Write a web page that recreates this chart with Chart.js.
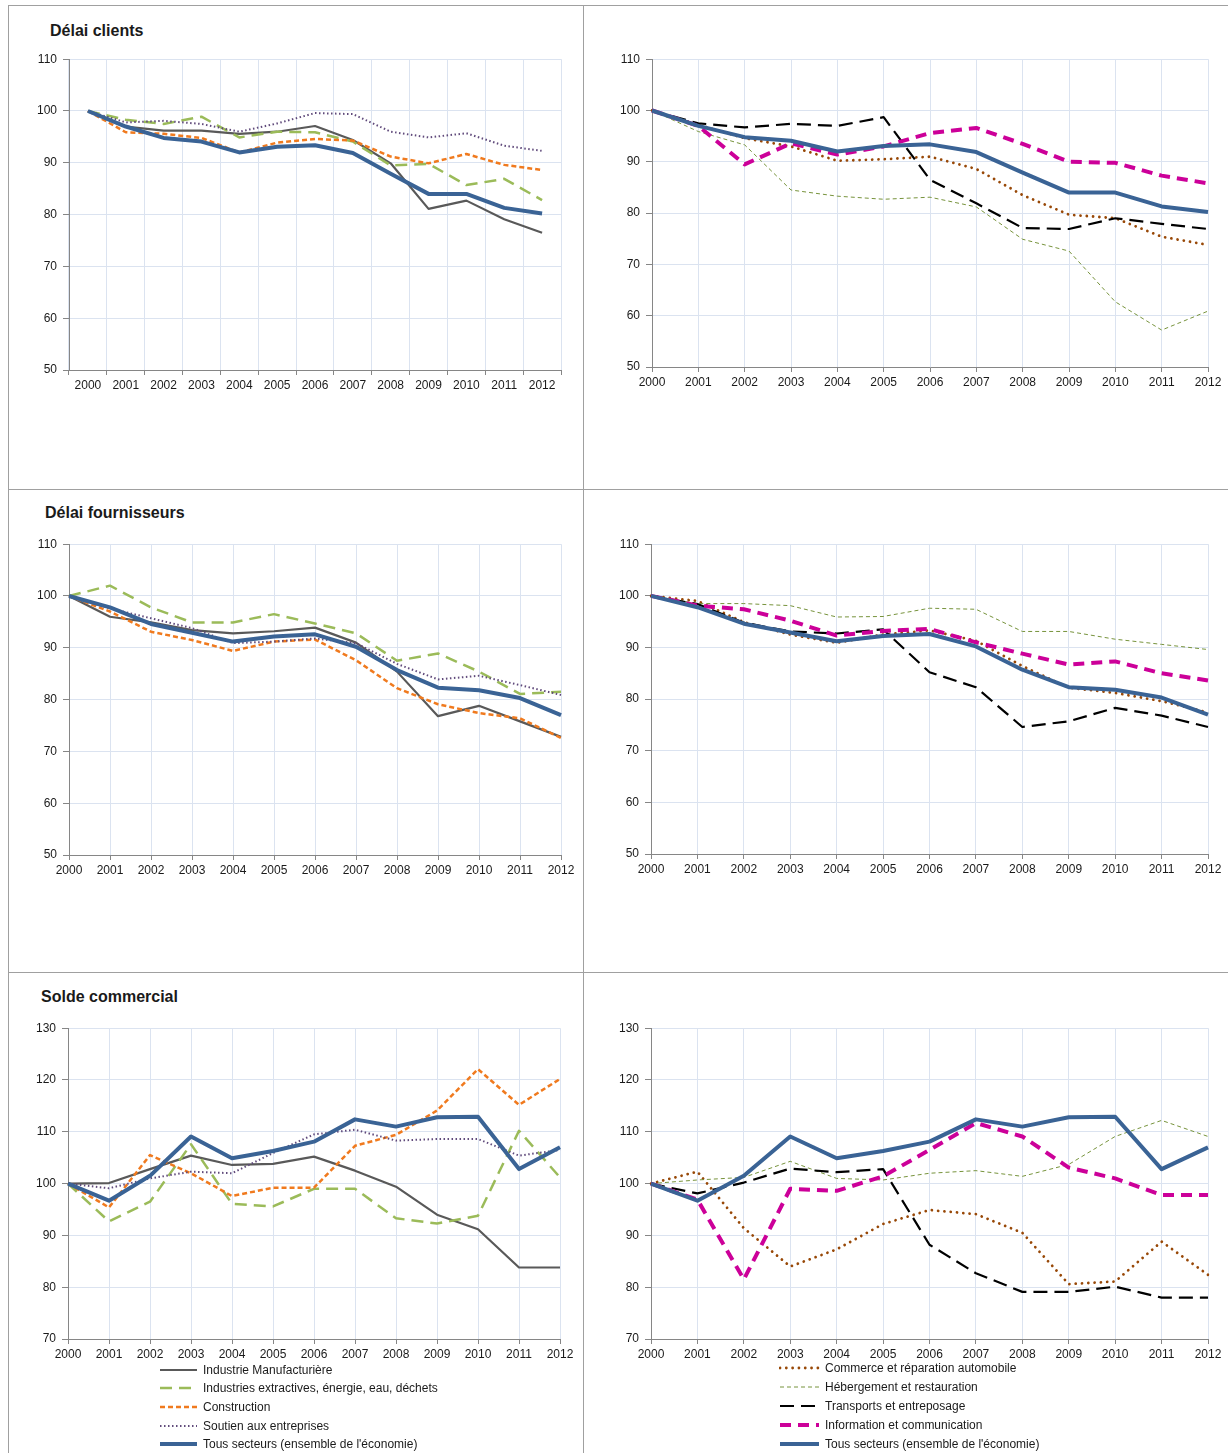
<!DOCTYPE html>
<html lang="fr">
<head>
<meta charset="utf-8">
<title>Délais et solde commercial</title>
<script src="https://cdn.jsdelivr.net/npm/chart.js@4.4.1/dist/chart.umd.min.js"></script>
<style>
  html, body { margin: 0; padding: 0; background: #fff; }
  #page { position: relative; width: 1228px; height: 1453px; overflow: hidden;
          font-family: "Liberation Sans", Arial, sans-serif; color: #1a1a1a; }
  .hline, .vline { position: absolute; background: #a0a0a0; }
  .hline { height: 1px; }
  .vline { width: 1px; }
  canvas { position: absolute; }
  .title { position: absolute; font-weight: bold; font-size: 16px; line-height: 20px; white-space: nowrap; }
  .leg { position: absolute; height: 16px; line-height: 16px; font-size: 12px; white-space: nowrap; }
  .leg svg { position: absolute; top: 4px; }
  .leg span { position: absolute; }
</style>
</head>
<body>
<div id="page">
  <div class="hline" style="left:8px; top:5px; width:1220px;"></div>
  <div class="hline" style="left:8px; top:489px; width:1220px;"></div>
  <div class="hline" style="left:8px; top:972px; width:1220px;"></div>
  <div class="vline" style="left:8px; top:5px; height:1448px;"></div>
  <div class="vline" style="left:583px; top:5px; height:1448px;"></div>

  <div class="title" style="left:50px; top:21px;">Délai clients</div>
  <div class="title" style="left:45px; top:503px;">Délai fournisseurs</div>
  <div class="title" style="left:41px; top:987px;">Solde commercial</div>

  <canvas id="c1" width="561" height="354" style="left:20px; top:46px;"></canvas>
  <canvas id="c2" width="625" height="351" style="left:603px; top:46px;"></canvas>
  <canvas id="c3" width="561" height="354" style="left:20px; top:531px;"></canvas>
  <canvas id="c4" width="626" height="353" style="left:602px; top:531px;"></canvas>
  <canvas id="c5" width="561" height="354" style="left:19px; top:1015px;"></canvas>
  <canvas id="c6" width="626" height="354" style="left:602px; top:1015px;"></canvas>

  <div id="legLeft"></div>
  <div id="legRight"></div>
</div>

<script>
const years = ['2000', '2001', '2002', '2003', '2004', '2005', '2006', '2007', '2008', '2009', '2010', '2011', '2012'];

// Délai clients
const dcTous = [100, 97.0, 94.8, 94.1, 92.0, 93.1, 93.4, 91.9, 87.9, 84.0, 84.0, 81.3, 80.2];
const dcIndustrie = [100, 97.0, 96.2, 96.2, 95.6, 96.0, 97.1, 94.4, 89.9, 81.1, 82.7, 79.1, 76.5];
const dcExtractives = [100, 98.3, 97.5, 98.9, 94.9, 96.0, 95.9, 94.1, 89.5, 89.8, 85.7, 86.9, 82.8];
const dcConstruction = [100, 95.9, 95.6, 94.8, 92.0, 93.9, 94.6, 94.3, 91.2, 89.9, 91.7, 89.6, 88.6];
const dcSoutien = [100, 97.8, 98.1, 97.5, 96.0, 97.6, 99.6, 99.4, 96.0, 94.9, 95.7, 93.3, 92.3];
const dcCommerce = [100, 97.2, 94.6, 93.0, 90.2, 90.5, 91.0, 88.6, 83.5, 79.7, 79.0, 75.4, 73.8];
const dcHebergement = [100, 95.9, 93.3, 84.5, 83.3, 82.7, 83.1, 81.2, 74.9, 72.6, 62.7, 57.2, 60.9];
const dcTransports = [100, 97.5, 96.7, 97.4, 97.0, 98.7, 86.5, 81.9, 77.1, 76.9, 79.0, 77.9, 76.9];
const dcInformation = [100, 97.0, 89.5, 93.6, 91.4, 93.0, 95.6, 96.6, 93.5, 90.0, 89.8, 87.3, 85.8];

// Délai fournisseurs
const dfTous = [100, 97.8, 94.6, 92.9, 91.2, 92.2, 92.6, 90.2, 85.7, 82.3, 81.8, 80.3, 77.0];
const dfIndustrie = [100, 96.0, 94.9, 93.4, 92.8, 93.2, 93.9, 91.0, 85.4, 76.8, 78.8, 75.8, 72.8];
const dfExtractives = [100, 102.0, 97.8, 94.9, 94.9, 96.5, 94.7, 92.8, 87.5, 88.9, 85.4, 81.1, 81.5];
const dfConstruction = [100, 97.0, 93.1, 91.5, 89.4, 91.2, 91.6, 87.6, 82.2, 79.1, 77.4, 76.4, 72.6];
const dfSoutien = [100, 97.6, 95.7, 93.8, 90.9, 91.2, 91.8, 90.9, 86.9, 83.9, 84.6, 82.8, 80.9];
const dfCommerce = [100, 99.0, 94.9, 92.5, 90.9, 92.5, 93.3, 91.3, 86.4, 82.2, 81.2, 79.6, 77.4];
const dfHebergement = [100, 98.5, 98.5, 98.1, 95.9, 96.0, 97.6, 97.4, 93.1, 93.1, 91.6, 90.6, 89.6];
const dfTransports = [100, 98.4, 94.8, 93.1, 92.7, 93.5, 85.2, 82.3, 74.6, 75.7, 78.3, 76.8, 74.6];
const dfInformation = [100, 98.1, 97.4, 95.2, 92.3, 93.2, 93.6, 91.0, 88.8, 86.7, 87.3, 85.0, 83.6];

// Solde commercial
const scTous = [100, 96.7, 101.5, 109.1, 104.9, 106.3, 108.1, 112.4, 111.0, 112.8, 112.9, 102.8, 107.0];
const scIndustrie = [100, 100.1, 102.8, 105.4, 103.6, 103.8, 105.2, 102.5, 99.4, 94.0, 91.2, 83.8, 83.8];
const scExtractives = [100, 92.7, 96.5, 107.6, 96.1, 95.6, 99.0, 99.0, 93.3, 92.3, 93.8, 110.2, 101.2];
const scConstruction = [100, 95.4, 105.5, 102.0, 97.6, 99.2, 99.2, 107.3, 109.4, 114.1, 122.1, 115.2, 120.2];
const scSoutien = [100, 99.1, 101.0, 102.3, 102.0, 105.9, 109.5, 110.4, 108.3, 108.6, 108.6, 105.4, 106.5];
const scCommerce = [100, 102.3, 91.4, 84.0, 87.3, 92.2, 94.9, 94.1, 90.5, 80.6, 81.1, 88.8, 82.4];
const scHebergement = [100, 100.7, 101.2, 104.3, 101.0, 100.7, 102.0, 102.5, 101.4, 103.7, 109.1, 112.2, 109.1];
const scTransports = [100, 98.1, 100.2, 102.9, 102.2, 102.8, 88.2, 82.7, 79.1, 79.1, 80.1, 78.0, 78.0];
const scInformation = [100, 96.9, 81.5, 99.0, 98.6, 101.4, 106.5, 111.7, 109.1, 103.1, 101.0, 97.8, 97.8];

// line styles
const styles = {
  industrie:   { label: 'Industrie Manufacturière', color: '#595959', width: 2.2, dash: [], cap: 'butt' },
  extractives: { label: 'Industries extractives, énergie, eau, déchets', color: '#9bbb59', width: 2.5, dash: [12, 7], cap: 'butt' },
  construction:{ label: 'Construction', color: '#f07a1e', width: 2.5, dash: [5, 3], cap: 'butt' },
  soutien:     { label: 'Soutien aux entreprises', color: '#604a7b', width: 2, dash: [1.5, 2.5], cap: 'butt' },
  tous:        { label: 'Tous secteurs (ensemble de l\'économie)', color: '#3a6395', width: 4, dash: [], cap: 'butt' },
  commerce:    { label: 'Commerce et réparation automobile', color: '#984807', width: 2.8, dash: [0.01, 6.3], cap: 'round' },
  hebergement: { label: 'Hébergement et restauration', color: '#77933c', width: 1, dash: [4, 3], cap: 'butt' },
  transports:  { label: 'Transports et entreposage', color: '#000000', width: 2.2, dash: [14, 7], cap: 'butt' },
  information: { label: 'Information et communication', color: '#cc0099', width: 4, dash: [11, 7], cap: 'butt' }
};

function ds(key, data) {
  const s = styles[key];
  return {
    label: s.label,
    data: data,
    borderColor: s.color,
    backgroundColor: s.color,
    borderWidth: s.width,
    borderDash: s.dash,
    borderCapStyle: s.cap,
    borderJoinStyle: 'round',
    pointRadius: 0,
    tension: 0,
    fill: false
  };
}

const tickFont = { family: '"Liberation Sans", Arial, sans-serif', size: 12 };
const gridColor = '#dbe3f0';
const axisColor = '#868686';

function makeChart(id, datasets, yMin, yMax, offset) {
  const ctx = document.getElementById(id).getContext('2d');
  return new Chart(ctx, {
    type: 'line',
    data: { labels: years, datasets: datasets },
    options: {
      responsive: false,
      animation: false,
      layout: { padding: { top: 10, right: 20, left: 0, bottom: 0 } },
      plugins: { legend: { display: false }, tooltip: { enabled: false } },
      scales: {
        x: {
          offset: offset,
          grid: { offset: offset, color: gridColor, tickColor: axisColor, tickLength: 5 },
          border: { color: axisColor },
          ticks: { font: tickFont, color: '#1a1a1a', padding: 3, maxRotation: 0, autoSkip: false },
          afterFit: (scale) => { scale.height = 30; }
        },
        y: {
          min: yMin,
          max: yMax,
          grid: { color: gridColor, tickColor: axisColor, tickLength: 6 },
          border: { color: axisColor },
          ticks: { stepSize: 10, font: tickFont, color: '#1a1a1a', padding: 6 },
          afterFit: (scale) => { scale.width = 49; }
        }
      }
    }
  });
}

// Chart.js paints dataset 0 last, so list the series in reverse of the Excel order
makeChart('c1', [ds('tous', dcTous), ds('soutien', dcSoutien), ds('construction', dcConstruction),
                 ds('extractives', dcExtractives), ds('industrie', dcIndustrie)], 50, 110, true);
makeChart('c2', [ds('tous', dcTous), ds('information', dcInformation), ds('transports', dcTransports),
                 ds('hebergement', dcHebergement), ds('commerce', dcCommerce)], 50, 110, false);
makeChart('c3', [ds('tous', dfTous), ds('soutien', dfSoutien), ds('construction', dfConstruction),
                 ds('extractives', dfExtractives), ds('industrie', dfIndustrie)], 50, 110, false);
makeChart('c4', [ds('tous', dfTous), ds('information', dfInformation), ds('transports', dfTransports),
                 ds('hebergement', dfHebergement), ds('commerce', dfCommerce)], 50, 110, false);
makeChart('c5', [ds('tous', scTous), ds('soutien', scSoutien), ds('construction', scConstruction),
                 ds('extractives', scExtractives), ds('industrie', scIndustrie)], 70, 130, false);
makeChart('c6', [ds('tous', scTous), ds('information', scInformation), ds('transports', scTransports),
                 ds('hebergement', scHebergement), ds('commerce', scCommerce)], 70, 130, false);

// html legends under the bottom charts
function buildLegend(containerId, keys, left, textLeft, sampleW, tops) {
  const box = document.getElementById(containerId);
  keys.forEach((key, i) => {
    const s = styles[key];
    const row = document.createElement('div');
    row.className = 'leg';
    row.style.left = left + 'px';
    row.style.top = (tops[i] - 8) + 'px';
    const dash = s.dash.length ? s.dash.join(',') : 'none';
    row.innerHTML =
      '<svg width="' + sampleW + '" height="8"><line x1="1" y1="4" x2="' + (sampleW - 1) + '" y2="4" stroke="' + s.color +
      '" stroke-width="' + s.width + '" stroke-dasharray="' + dash + '" stroke-linecap="' + s.cap + '"/></svg>' +
      '<span style="left:' + (textLeft - left) + 'px">' + s.label + '</span>';
    box.appendChild(row);
  });
}

buildLegend('legLeft', ['industrie', 'extractives', 'construction', 'soutien', 'tous'],
            159, 203, 39, [1370, 1388, 1407, 1426, 1444]);
buildLegend('legRight', ['commerce', 'hebergement', 'transports', 'information', 'tous'],
            779, 825, 41, [1368, 1387, 1406, 1425, 1444]);
</script>
</body>
</html>
